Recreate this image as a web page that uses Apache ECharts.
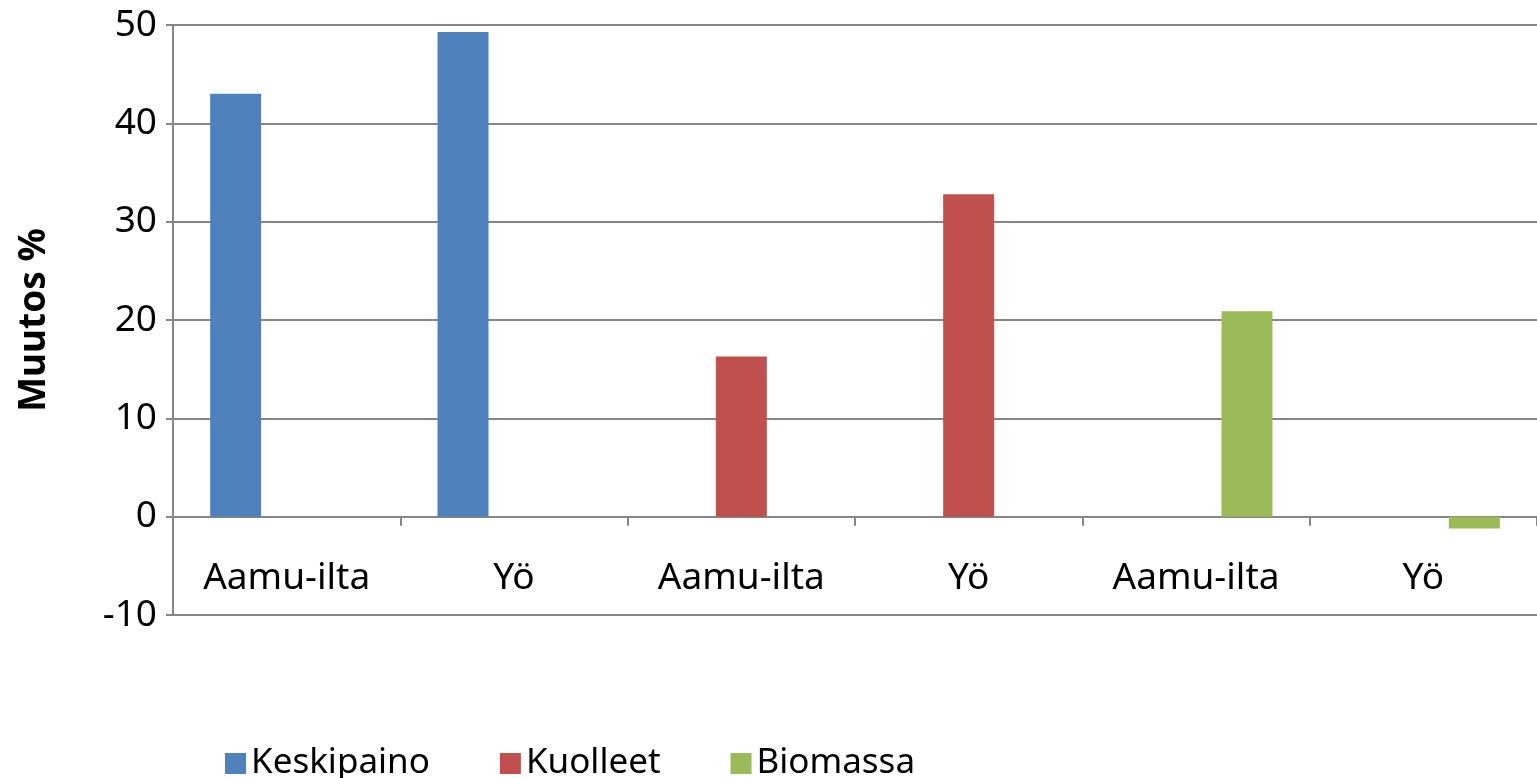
<!DOCTYPE html>
<html>
<head>
<meta charset="utf-8">
<script src="https://cdn.jsdelivr.net/npm/echarts@6/dist/echarts.min.js"></script>
<style>
  html, body { margin: 0; padding: 0; background: #fff; }
  #chart { width: 1537px; height: 778px; }
</style>
</head>
<body>
<div id="chart"></div>
<script>
// kategoriat ja sarjat
var categories = ['Aamu-ilta', 'Yö', 'Aamu-ilta', 'Yö', 'Aamu-ilta', 'Yö'];
var keskipaino = [43.0, 49.3, null, null, null, null];
var kuolleet = [null, null, 16.3, 32.8, null, null];
var biomassa = [null, null, null, null, 20.9, -1.2];
var yTicks = [-10, 0, 10, 20, 30, 40, 50];

var font = '"Noto Sans", sans-serif';
var gray = '#868686';

function bar(name, data, color) {
  return {
    name: name,
    type: 'bar',
    data: data,
    barWidth: 51,
    barGap: '0%',
    itemStyle: { color: color }
  };
}

var myChart = echarts.init(document.getElementById('chart'));
var option = {
  animation: false,
  grid: { left: 173, right: 0, top: 25, bottom: 163 },
  legend: {
    bottom: -8,
    left: 220,
    itemWidth: 21,
    itemHeight: 21,
    itemGap: 70,
    icon: 'rect',
    textStyle: { fontFamily: font, fontSize: 35, color: '#000' },
    data: ['Keskipaino', 'Kuolleet', 'Biomassa']
  },
  xAxis: {
    type: 'category',
    data: categories,
    axisLine: { onZero: true, lineStyle: { color: gray, width: 2 } },
    axisTick: { show: true, length: 9, inside: false, lineStyle: { color: gray, width: 2 } },
    axisLabel: { margin: -55, fontFamily: font, fontSize: 37, color: '#000' },
    splitLine: { show: false }
  },
  yAxis: {
    type: 'value',
    min: yTicks[0],
    max: yTicks[yTicks.length - 1],
    interval: 10,
    name: 'Muutos %',
    nameLocation: 'middle',
    nameGap: 120,
    nameRotate: 90,
    nameTextStyle: { fontFamily: font, fontSize: 37, fontWeight: 'bold', color: '#000' },
    axisLine: { show: true, lineStyle: { color: gray, width: 2 } },
    axisTick: { show: true, length: 7, lineStyle: { color: gray, width: 2 } },
    axisLabel: { margin: 16, fontFamily: font, fontSize: 37, color: '#000' },
    splitLine: { show: true, lineStyle: { color: gray, width: 2 } }
  },
  series: [
    bar('Keskipaino', keskipaino, '#4f81bd'),
    bar('Kuolleet', kuolleet, '#c0504d'),
    bar('Biomassa', biomassa, '#9bbb59')
  ]
};
myChart.setOption(option);
window.addEventListener('resize', () => { myChart.resize(); });
</script>
</body>
</html>
